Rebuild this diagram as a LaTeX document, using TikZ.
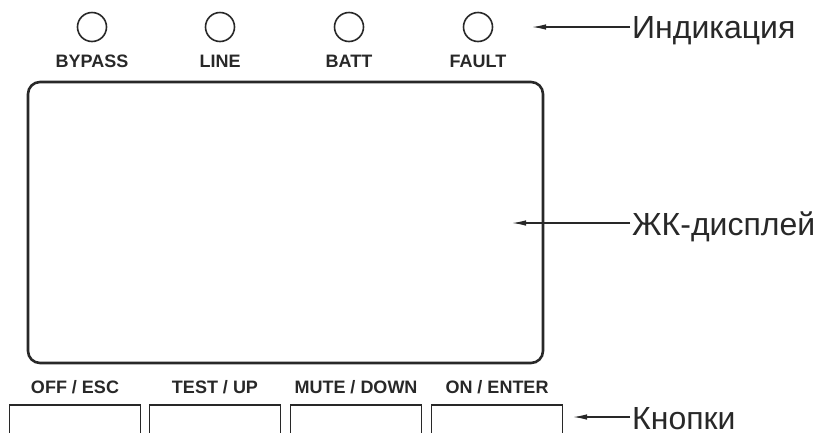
\documentclass[tikz,border=0pt]{standalone}
\usepackage{fontspec}
\setmainfont{Liberation Sans}
\usepackage{tikz}
\usetikzlibrary{arrows.meta,positioning}
\definecolor{ink}{RGB}{40,40,40}

\begin{document}
\begin{tikzpicture}[x=1pt, y=-1pt, >={Latex[length=14pt,width=5.5pt]},
lamp/.style={draw=ink, circle, line width=1.6pt, minimum size=29pt, inner sep=0pt},
tag/.style={text=ink, font=\fontsize{18}{18}\selectfont\bfseries, anchor=base, inner sep=0pt},
screen/.style={draw=ink, line width=2.6pt, rounded corners=12pt, minimum width=515pt, minimum height=281pt, inner sep=0pt},
key/.style={draw=ink, line width=1.4pt, minimum width=131pt, minimum height=40pt, inner sep=0pt},
callout/.style={text=ink, font=\fontsize{32}{32}\selectfont, anchor=base west, inner xsep=2pt, inner ysep=0pt},
pointer/.style={->, draw=ink, line width=1.2pt}]
\clip (0,0) rectangle (826,432);
% indicator lamps
\node[lamp] (bypass) at (92,27) {}; \node[lamp] (line) at (220,27) {}; \node[lamp] (batt) at (349,27) {}; \node[lamp] (fault) at (478,27) {};
\node[tag] (bypasstag) at (92,67) {BYPASS}; \node[tag] (linetag) at (220,67) {LINE}; \node[tag] (batttag) at (349,67) {BATT}; \node[tag] (faulttag) at (478,67) {FAULT};
% display
\node[screen] (lcd) at (285.5,222.5) {};
% keys
\node[tag] (offtag) at (75,393) {OFF / ESC}; \node[tag] (testtag) at (215,393) {TEST / UP}; \node[tag] (mutetag) at (356,393) {MUTE / DOWN}; \node[tag] (ontag) at (497,393) {ON / ENTER};
\node[key] (off) at (75,425) {}; \node[key] (test) at (215,425) {}; \node[key] (mute) at (356,425) {}; \node[key] (on) at (497,425) {};
% callouts
\coordinate (indtip) at (532,27); \coordinate (lcdtip) at (512,223); \coordinate (keytip) at (573,417);
\node[callout] (ind) at (630,38) {Индикация};
\node[callout] (lcdtxt) at (630,235) {ЖК-дисплей};
\node[callout] (keytxt) at (630,429) {Кнопки};
\draw[pointer] (ind.west |- indtip) -- (indtip); \draw[pointer] (lcdtxt.west |- lcdtip) -- (lcdtip); \draw[pointer] (keytxt.west |- keytip) -- (keytip);
\end{tikzpicture}
\end{document}
